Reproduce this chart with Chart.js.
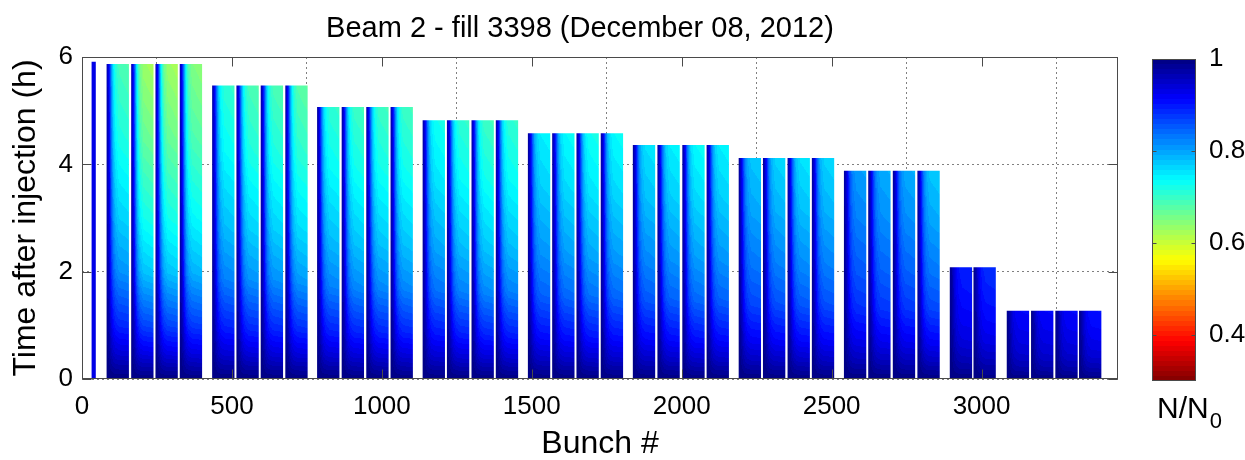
<!DOCTYPE html>
<html>
<head>
<meta charset="utf-8">
<title>Beam 2 - fill 3398</title>
<script src="https://cdn.jsdelivr.net/npm/chart.js@4.4.1/dist/chart.umd.min.js"></script>
<style>
  html, body { margin: 0; padding: 0; background: #fff; }
  #wrap { position: relative; width: 1245px; height: 460px; }
  #main { position: absolute; left: 0; top: 0; }
  #bar { position: absolute; left: 1130px; top: 0; }
</style>
</head>
<body>
<div id="wrap">
  <canvas id="main" width="1245" height="460"></canvas>
  <canvas id="bar" width="115" height="460"></canvas>
</div>
<script>
// ---- data ----
const bunchTicks = [0, 500, 1000, 1500, 2000, 2500, 3000];
const hourTicks = [0, 2, 4, 6];
const ratioTicks = [0.4, 0.6, 0.8, 1];
const cbMin = 0.3; // colour scale range of N/N0
const cbMax = 1;

// pilot bunch at the start of the ring
const pilotBunch = [39];
const pilotHours = [5.91];
const pilotRatio = [0.93];
const pilotLength = 14; // bunch slots

// batches (4 per train, 2 in train 9): first bunch slot, time since injection, N/N0 reached at the top
const batchLength = 74.5; // bunch slots
const batchStart = [
  82, 164, 245, 326,
  434, 515, 596, 678,
  784, 866, 948, 1029,
  1136, 1217, 1299, 1380,
  1487, 1568, 1649, 1730,
  1837, 1919, 2002, 2083,
  2190, 2271, 2353, 2434,
  2541, 2622, 2704, 2786,
  2894, 2973,
  3084, 3165, 3246, 3325
];
const batchHours = [
  5.87, 5.87, 5.87, 5.87,
  5.47, 5.47, 5.47, 5.47,
  5.07, 5.07, 5.07, 5.07,
  4.82, 4.82, 4.82, 4.82,
  4.58, 4.58, 4.58, 4.58,
  4.36, 4.36, 4.36, 4.36,
  4.12, 4.12, 4.12, 4.12,
  3.88, 3.88, 3.88, 3.88,
  2.08, 2.08,
  1.27, 1.27, 1.27, 1.27
];
const batchTopRatio = [
  0.68, 0.62, 0.62, 0.64,
  0.70, 0.68, 0.68, 0.67,
  0.70, 0.69, 0.69, 0.69,
  0.72, 0.70, 0.69, 0.70,
  0.74, 0.73, 0.72, 0.73,
  0.75, 0.74, 0.73, 0.74,
  0.77, 0.76, 0.75, 0.76,
  0.80, 0.79, 0.79, 0.77,
  0.89, 0.88,
  0.91, 0.91, 0.91, 0.90
];

// share of the loss along a batch (head -> tail) and along the time (injection -> top)
const alongBatch = [0, 0.08, 0.15, 0.22, 0.3, 0.4, 0.55, 1];
const alongBatchLoss = [0.08, 0.2, 0.38, 0.6, 0.78, 0.9, 0.97, 1];
const alongTime = [0, 0.085, 0.17, 0.34, 0.51, 0.77, 1];
const alongTimeLoss = [0, 0.2, 0.36, 0.6, 0.74, 0.9, 1];

const FONT = "'Liberation Sans', Arial, Helvetica, sans-serif";

// reversed 64-level jet colour map on [cbMin, cbMax]
function jet(v) {
  let m = (cbMax - v) / (cbMax - cbMin);
  m = Math.min(Math.max(m, 0), 1);
  const k = Math.min(63, Math.floor(m * 64));
  const x = (k + 0.5) / 64;
  const c = (s) => Math.round(255 * Math.min(1, Math.max(0, 1.5 - Math.abs(4 * x - s))));
  return [c(3), c(2), c(1)];
}

function rgb(v) {
  const [r, g, b] = jet(v);
  return `rgb(${r},${g},${b})`;
}

function lookup(xs, ys, t) {
  if (t <= xs[0]) return ys[0];
  for (let i = 1; i < xs.length; i++) {
    if (t <= xs[i]) {
      const f = (t - xs[i - 1]) / (xs[i] - xs[i - 1]);
      return ys[i - 1] + f * (ys[i] - ys[i - 1]);
    }
  }
  return ys[ys.length - 1];
}

// every bar is filled with its own N/N0 map, laid on the bar's pixel box
function batchFill(context) {
  const chart = context.chart;
  const i = context.dataIndex;
  if (!chart.chartArea || i === undefined) return 'rgba(0,0,0,0)';
  const xs = chart.scales.x;
  const ys = chart.scales.y;
  const x0 = xs.getPixelForValue(batchStart[i]);
  const x1 = xs.getPixelForValue(batchStart[i] + batchLength);
  const y0 = ys.getPixelForValue(batchHours[i]);
  const y1 = ys.getPixelForValue(0);
  const left = Math.floor(x0);
  const top = Math.floor(y0);
  const w = Math.max(1, Math.ceil(x1) - left);
  const h = Math.max(1, Math.ceil(y1) - top);

  const off = document.createElement('canvas');
  off.width = w;
  off.height = h;
  const octx = off.getContext('2d');
  const img = octx.createImageData(w, h);
  const loss = 1 - batchTopRatio[i];
  for (let c = 0; c < w; c++) {
    const u = (left + c + 0.5 - x0) / (x1 - x0);
    const fu = lookup(alongBatch, alongBatchLoss, u);
    for (let r = 0; r < h; r++) {
      const t = (y1 - (top + r + 0.5)) / (y1 - y0);
      const v = 1 - loss * fu * lookup(alongTime, alongTimeLoss, t);
      const col = jet(v);
      const p = (r * w + c) * 4;
      img.data[p] = col[0];
      img.data[p + 1] = col[1];
      img.data[p + 2] = col[2];
      img.data[p + 3] = 255;
    }
  }
  octx.putImageData(img, 0, 0);
  const pattern = chart.ctx.createPattern(off, 'no-repeat');
  pattern.setTransform(new DOMMatrix([1, 0, 0, 1, left, top]));
  return pattern;
}

function colorbarFill(context) {
  const chart = context.chart;
  if (!chart.chartArea) return 'rgba(0,0,0,0)';
  const ys = chart.scales.y;
  const g = chart.ctx.createLinearGradient(0, ys.getPixelForValue(cbMax), 0, ys.getPixelForValue(cbMin));
  for (let k = 0; k < 64; k++) {
    const col = rgb(cbMax - ((k + 0.5) / 64) * (cbMax - cbMin));
    g.addColorStop(k / 64, col);
    g.addColorStop((k + 1) / 64, col);
  }
  return g;
}

// box around the plot with inward tick marks (matlab style)
const framePlugin = {
  id: 'frame',
  afterDatasetsDraw(chart, args, opts) {
    const { ctx, chartArea: a } = chart;
    const L = Math.round(a.left) + 0.5, R = Math.round(a.right) - 0.5;
    const T = Math.round(a.top) + 0.5, B = Math.round(a.bottom) - 0.5;
    ctx.save();
    ctx.strokeStyle = opts.color;
    ctx.lineWidth = 1;
    ctx.beginPath();
    if (opts.xTicks) {
      chart.scales.x.ticks.forEach((t) => {
        const px = Math.round(chart.scales.x.getPixelForValue(t.value)) + 0.5;
        ctx.moveTo(px, B); ctx.lineTo(px, B - opts.len);
        ctx.moveTo(px, T); ctx.lineTo(px, T + opts.len);
      });
    }
    chart.scales.y.ticks.forEach((t) => {
      const py = Math.round(chart.scales.y.getPixelForValue(t.value)) + 0.5;
      ctx.moveTo(L, py); ctx.lineTo(L + opts.len, py);
      ctx.moveTo(R, py); ctx.lineTo(R - opts.len, py);
    });
    ctx.stroke();
    ctx.strokeRect(L, T, R - L, B - T);
    ctx.restore();
  }
};

const titlePlugin = {
  id: 'figTitle',
  afterDraw(chart, args, o) {
    const ctx = chart.ctx;
    ctx.save();
    ctx.font = `${o.size}px ${FONT}`;
    ctx.fillStyle = o.color;
    ctx.textAlign = 'center';
    ctx.textBaseline = 'alphabetic';
    ctx.fillText(o.text, o.x, o.y);
    ctx.restore();
  }
};

// "N/N0" with the 0 as a subscript, under the colour bar
const unitPlugin = {
  id: 'unit',
  afterDraw(chart, args, o) {
    const ctx = chart.ctx;
    const x = chart.chartArea.left + o.dx;
    ctx.save();
    ctx.fillStyle = o.color;
    ctx.textBaseline = 'alphabetic';
    ctx.font = `${o.size}px ${FONT}`;
    ctx.fillText(o.text, x, o.y);
    const w = ctx.measureText(o.text).width;
    ctx.font = `${o.subSize}px ${FONT}`;
    ctx.fillText(o.sub, x + w + 1, o.y + o.subDrop);
    ctx.restore();
  }
};

// bars sit on a linear bunch axis; their width follows the smallest spacing between bars
const centers = pilotBunch.concat(batchStart.map((b) => b + batchLength / 2)).sort((a, b) => a - b);
let minGap = Infinity;
for (let i = 1; i < centers.length; i++) minGap = Math.min(minGap, centers[i] - centers[i - 1]);

const tickFont = { family: FONT, size: 26 };

new Chart(document.getElementById('main'), {
  type: 'bar',
  data: {
    datasets: [
      {
        label: 'pilot',
        data: pilotBunch.map((b, i) => ({ x: b, y: pilotHours[i] })),
        backgroundColor: pilotRatio.map(rgb),
        borderWidth: 0,
        grouped: false,
        categoryPercentage: 1,
        barPercentage: pilotLength / minGap
      },
      {
        label: 'batches',
        data: batchStart.map((b, i) => ({ x: b + batchLength / 2, y: batchHours[i] })),
        backgroundColor: batchFill,
        borderWidth: 0,
        grouped: false,
        categoryPercentage: 1,
        barPercentage: batchLength / minGap
      }
    ]
  },
  options: {
    responsive: false,
    animation: false,
    events: [],
    layout: { padding: { left: 0, right: 127, top: 57, bottom: 0 } },
    plugins: {
      legend: { display: false },
      tooltip: { enabled: false },
      figTitle: { text: 'Beam 2 - fill 3398 (December 08, 2012)', x: 580, y: 37, size: 29, color: '#000' },
      frame: { color: '#4a4a4a', len: 9, xTicks: true }
    },
    scales: {
      x: {
        type: 'linear',
        min: 0,
        max: 3455,
        offset: false,
        afterBuildTicks: (s) => { s.ticks = bunchTicks.map((v) => ({ value: v })); },
        afterFit: (s) => { s.height = 81; },
        ticks: { callback: (v) => String(v), font: tickFont, color: '#000', padding: 12, maxRotation: 0, autoSkip: false },
        grid: { color: '#808080', lineWidth: 1, drawTicks: false },
        border: { display: false, dash: [2, 3] },
        title: { display: true, text: 'Bunch #', color: '#000', font: { family: FONT, size: 32, lineHeight: 1 }, padding: { top: 0, bottom: 0 } }
      },
      y: {
        min: 0,
        max: 6,
        afterBuildTicks: (s) => { s.ticks = hourTicks.map((v) => ({ value: v })); },
        afterFit: (s) => { s.width = 82; },
        ticks: { callback: (v) => String(v), font: tickFont, color: '#000', padding: 9 },
        grid: { color: '#808080', lineWidth: 1, drawTicks: false },
        border: { display: false, dash: [2, 3] },
        title: { display: true, text: 'Time after injection (h)', color: '#000', font: { family: FONT, size: 32, lineHeight: 1 }, padding: { top: 10, bottom: 0 } }
      }
    }
  },
  plugins: [titlePlugin, framePlugin]
});

new Chart(document.getElementById('bar'), {
  type: 'bar',
  data: {
    labels: ['N/N0'],
    datasets: [{
      data: [[cbMin, cbMax]],
      backgroundColor: colorbarFill,
      borderWidth: 0,
      barPercentage: 1,
      categoryPercentage: 1
    }]
  },
  options: {
    responsive: false,
    animation: false,
    events: [],
    layout: { padding: { left: 22, right: 0, top: 59, bottom: 79 } },
    plugins: {
      legend: { display: false },
      tooltip: { enabled: false },
      frame: { color: '#4a4a4a', len: 4, xTicks: false },
      unit: { text: 'N/N', sub: '0', dx: 5, y: 418, size: 30, subSize: 22, subDrop: 10, color: '#000' }
    },
    scales: {
      x: { display: false },
      y: {
        position: 'right',
        min: cbMin,
        max: cbMax,
        afterBuildTicks: (s) => { s.ticks = ratioTicks.map((v) => ({ value: v })); },
        afterFit: (s) => { s.width = 49; },
        ticks: { callback: (v) => String(v), font: tickFont, color: '#000', padding: 5 },
        grid: { display: false },
        border: { display: false }
      }
    }
  },
  plugins: [framePlugin, unitPlugin]
});
</script>
</body>
</html>
